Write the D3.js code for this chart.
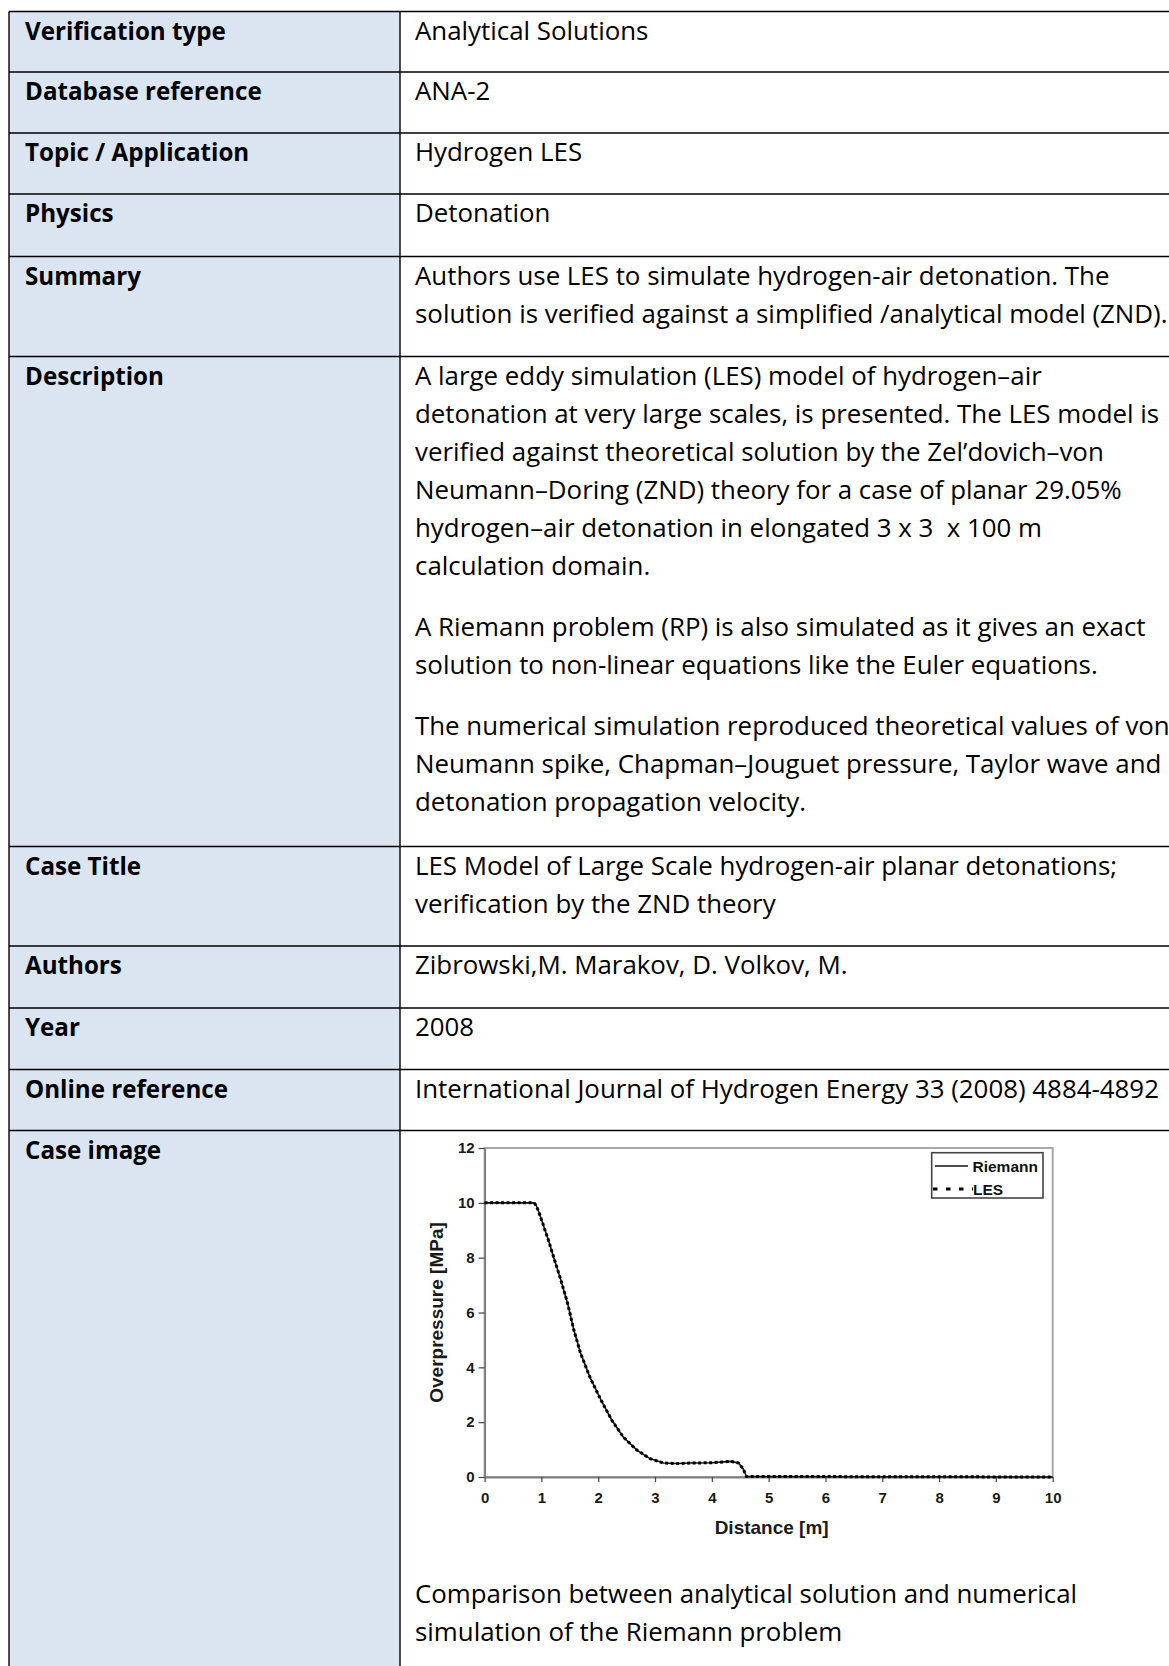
<!DOCTYPE html>
<html><head><meta charset="utf-8">
<script src="https://cdn.jsdelivr.net/npm/d3@7"></script>
<style>html,body{margin:0;padding:0;background:#fff;} svg{display:block} .pre{white-space:pre}</style>
</head><body>
<svg id="c" width="1169" height="1666"></svg>
<script>
// ---------- DATA ----------
const rowLabels = ["Verification type","Database reference","Topic / Application","Physics","Summary","Description","Case Title","Authors","Year","Online reference","Case image"];
const rowValues = [
  [["Analytical Solutions"]],
  [["ANA-2"]],
  [["Hydrogen LES"]],
  [["Detonation"]],
  [["Authors use LES to simulate hydrogen-air detonation. The","solution is verified against a simplified /analytical model (ZND)."]],
  [["A large eddy simulation (LES) model of hydrogen–air","detonation at very large scales, is presented. The LES model is","verified against theoretical solution by the Zel’dovich–von","Neumann–Doring (ZND) theory for a case of planar 29.05%","hydrogen–air detonation in elongated 3 x 3  x 100 m","calculation domain."],
   ["A Riemann problem (RP) is also simulated as it gives an exact","solution to non-linear equations like the Euler equations."],
   ["The numerical simulation reproduced theoretical values of von","Neumann spike, Chapman–Jouguet pressure, Taylor wave and","detonation propagation velocity."]],
  [["LES Model of Large Scale hydrogen-air planar detonations;","verification by the ZND theory"]],
  [["Zibrowski,M. Marakov, D. Volkov, M."]],
  [["2008"]],
  [["International Journal of Hydrogen Energy 33 (2008) 4884-4892"]],
  []
];
const caption = ["Comparison between analytical solution and numerical","simulation of the Riemann problem"];

const xTicks = [0,1,2,3,4,5,6,7,8,9,10];
const yTicks = [0,2,4,6,8,10,12];
const xTitle = "Distance [m]";
const yTitle = "Overpressure [MPa]";
const seriesNames = ["Riemann","LES"];
const riemannX = [0,0.87,0.91,0.96,1.02,1.12,1.22,1.34,1.46,1.57,1.69,1.85,2.05,2.24,2.44,2.68,2.91,3.15,3.39,3.62,4.0,4.33,4.47,4.55,4.61,10];
const riemannY = [10,10,9.9,9.63,9.27,8.66,7.99,7.2,6.34,5.37,4.51,3.66,2.80,2.07,1.46,0.98,0.67,0.51,0.49,0.51,0.52,0.57,0.51,0.30,0.02,0];
const lesX = [0,0.87,0.91,0.96,1.02,1.12,1.22,1.34,1.46,1.57,1.69,1.85,2.05,2.24,2.44,2.68,2.91,3.15,3.39,3.62,4.0,4.33,4.47,4.55,4.61,10];
const lesY = [10,10,9.9,9.63,9.27,8.66,7.99,7.2,6.34,5.37,4.51,3.66,2.80,2.07,1.46,0.98,0.67,0.51,0.49,0.51,0.52,0.57,0.51,0.30,0.02,0];

// ---------- LAYOUT ----------
const svg = d3.select("#c");
const W = 1169, H = 1666;
const TF = "'Open Sans', Lato, 'Noto Sans', sans-serif";
const CF = "'Liberation Sans', Arial, sans-serif";
const rowTops = [11.5,72,133,194,256.5,356.5,846.5,946,1008,1069.5,1130.5];
const leftX = 9, divX = 400, labelX = 25, valueX = 415;
const baseOff = 28, lineH = 38, paraGap = 23;

function fit(text, weight, target){
  const p = svg.append("text").attr("font-family",TF).attr("font-weight",weight).attr("font-size",100).text(text);
  const w = p.node().getComputedTextLength(); p.remove();
  return 100*target/w;
}
const valSize = fit("International Journal of Hydrogen Energy 33 (2008) 4884-4892","normal",744);
const labSize = fit("Online reference","bold",203);

svg.append("rect").attr("x",leftX).attr("y",rowTops[0]).attr("width",divX-leftX).attr("height",H-rowTops[0]+10).attr("fill","#dbe5f1");
const g = svg.append("g");
rowTops.forEach(t=>{
  g.append("line").attr("x1",leftX).attr("x2",W).attr("y1",t).attr("y2",t).attr("stroke","#000").attr("stroke-width",1.4);
});
[leftX,divX].forEach(xv=>{
  g.append("line").attr("x1",xv).attr("x2",xv).attr("y1",rowTops[0]).attr("y2",H+5).attr("stroke","#000").attr("stroke-width",1.4);
});

rowLabels.forEach((lab,i)=>{
  svg.append("text").attr("x",labelX).attr("y",rowTops[i]+baseOff).attr("font-family",TF).attr("font-weight","bold")
    .attr("font-size",labSize).attr("fill","#000").text(lab);
  let yy = rowTops[i]+baseOff;
  rowValues[i].forEach((para,pi)=>{
    if(pi>0) yy += paraGap;
    para.forEach((ln)=>{
      svg.append("text").attr("class","pre").attr("x",valueX).attr("y",yy).attr("font-family",TF)
        .attr("font-size",valSize).attr("fill","#000").text(ln);
      yy += lineH;
    });
  });
});
caption.forEach((ln,i)=>{
  svg.append("text").attr("x",valueX).attr("y",1603+i*lineH).attr("font-family",TF)
    .attr("font-size",valSize).attr("fill","#000").text(ln);
});

// ---------- CHART ----------
const x = d3.scaleLinear().domain([0,10]).range([484.6,1052.7]);
const y = d3.scaleLinear().domain([0,12]).range([1477,1148]);
const ch = svg.append("g");
ch.append("rect").attr("x",x(0)).attr("y",y(12)).attr("width",x(10)-x(0)).attr("height",y(0)-y(12))
  .attr("fill","#fff").attr("stroke","#a8a8a8").attr("stroke-width",2);

const ax = ch.append("g").attr("transform",`translate(0,${y(0)})`)
  .call(d3.axisBottom(x).tickValues(xTicks).tickSize(5).tickSizeOuter(0).tickPadding(10).tickFormat(d3.format("d")));
const ay = ch.append("g").attr("transform",`translate(${x(0)},0)`)
  .call(d3.axisLeft(y).tickValues(yTicks).tickSize(6).tickSizeOuter(0).tickPadding(4).tickFormat(d3.format("d")));
[ax,ay].forEach(a=>{
  a.select(".domain").attr("stroke","#808080").attr("stroke-width",2);
  a.selectAll(".tick line").attr("stroke","#444").attr("stroke-width",1.2);
  a.selectAll(".tick text").attr("font-family",CF).attr("font-weight","bold").attr("font-size",15).attr("fill","#1a1a1a");
});

const line = d3.line().x(d=>x(d[0])).y(d=>y(d[1]));
const rData = riemannX.map((v,i)=>[v,riemannY[i]]);
const lData = lesX.map((v,i)=>[v,lesY[i]]);
ch.append("path").attr("d",line(rData)).attr("fill","none").attr("stroke","#111").attr("stroke-width",1.6);
ch.append("path").attr("d",line(lData)).attr("fill","none").attr("stroke","#000").attr("stroke-width",3).attr("stroke-dasharray","3,2.5");

ch.append("text").attr("x",(x(0)+x(10))/2+3).attr("y",1534).attr("text-anchor","middle")
  .attr("font-family",CF).attr("font-weight","bold").attr("font-size",19).attr("fill","#1a1a1a").text(xTitle);
ch.append("text").attr("transform",`translate(436,${(y(0)+y(12))/2}) rotate(-90)`).attr("text-anchor","middle")
  .attr("dominant-baseline","central").attr("font-family",CF).attr("font-weight","bold").attr("font-size",19).attr("fill","#1a1a1a").text(yTitle);

const lg = ch.append("g");
lg.append("rect").attr("x",931.7).attr("y",1152.7).attr("width",111.3).attr("height",45.3).attr("fill","#fff").attr("stroke","#444").attr("stroke-width",1.6);
lg.append("line").attr("x1",935).attr("x2",968).attr("y1",1166).attr("y2",1166).attr("stroke","#111").attr("stroke-width",1.6);
lg.append("line").attr("x1",933).attr("x2",973).attr("y1",1189).attr("y2",1189).attr("stroke","#000").attr("stroke-width",3).attr("stroke-dasharray","4.5,8.5");
lg.append("text").attr("x",972.5).attr("y",1166).attr("dominant-baseline","central").attr("font-family",CF).attr("font-weight","bold").attr("font-size",15.5).attr("fill","#111").text(seriesNames[0]);
lg.append("text").attr("x",973).attr("y",1189).attr("dominant-baseline","central").attr("font-family",CF).attr("font-weight","bold").attr("font-size",15.5).attr("fill","#111").text(seriesNames[1]);
</script>
</body></html>
